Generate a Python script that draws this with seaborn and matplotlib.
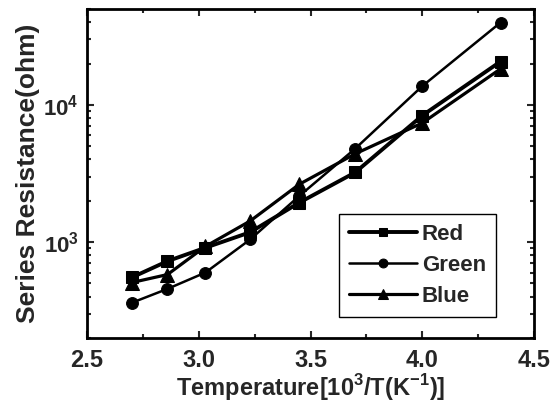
import numpy as np
import pandas as pd
import seaborn as sns
import matplotlib
matplotlib.use("Agg")
import matplotlib.pyplot as plt
from matplotlib.ticker import LogLocator, FixedFormatter, FixedLocator, NullFormatter, MultipleLocator

# 1000/T values (x) and series resistance (ohm)
inv_temp = [2.70, 2.86, 3.03, 3.23, 3.45, 3.70, 4.00, 4.35]
red = [552, 726, 910, 1180, 1940, 3220, 8360, 20700]
green = [361, 456, 600, 1045, 2170, 4800, 13700, 39800]
blue = [507, 580, 930, 1425, 2640, 4400, 7380, 18300]

series_names = ["Red", "Green", "Blue"]

df = pd.DataFrame({
    "x": inv_temp * 3,
    "y": red + green + blue,
    "series": np.repeat(series_names, len(inv_temp)),
})

sns.set_style("ticks")
plt.rcParams["font.family"] = ["Liberation Sans", "DejaVu Sans"]
plt.rcParams["font.weight"] = "bold"
plt.rcParams["mathtext.fontset"] = "custom"
plt.rcParams["mathtext.bf"] = "Liberation Sans:bold"
plt.rcParams["mathtext.rm"] = "Liberation Sans:bold"

fig = plt.figure(figsize=(5.56, 4.08), dpi=100)
ax = fig.add_axes([0.1565, 0.1716, 0.804, 0.8064])

markers = {"Red": "s", "Green": "o", "Blue": "^"}
widths = {"Red": 2.8, "Green": 1.8, "Blue": 2.3}
msizes = {"Red": 8.5, "Green": 8.5, "Blue": 9.5}

for name in series_names:
    sns.lineplot(data=df[df["series"] == name], x="x", y="y", ax=ax,
                 color="black", marker=markers[name], markersize=msizes[name],
                 markeredgecolor="black", linewidth=widths[name], label=name)

ax.set_yscale("log")
ax.set_xlim(2.5, 4.5)
ax.set_ylim(200, 50000)

ax.xaxis.set_minor_locator(MultipleLocator(0.25))
ax.set_xticks([2.5, 3.0, 3.5, 4.0, 4.5])
ax.set_xticklabels(["2.5", "3.0", "3.5", "4.0", "4.5"])

ax.yaxis.set_major_locator(FixedLocator([1e3, 1e4]))
ax.yaxis.set_major_formatter(FixedFormatter([r"$\mathbf{10^{3}}$", r"$\mathbf{10^{4}}$"]))
ax.yaxis.set_minor_locator(LogLocator(base=10, subs=np.arange(2, 10), numticks=20))
ax.yaxis.set_minor_formatter(NullFormatter())

ax.tick_params(which="both", direction="in", top=True, right=True, width=1.5)
ax.tick_params(which="major", length=5, pad=6)
ax.tick_params(axis="x", which="major", labelsize=17, pad=8)
ax.tick_params(axis="y", which="major", labelsize=16)
ax.tick_params(which="minor", length=3)
for s in ax.spines.values():
    s.set_linewidth(2)
    s.set_color("black")

ax.set_xlabel(r"Temperature[10$^\mathbf{3}$/T(K$^\mathbf{-1}$)]", fontsize=17, fontweight="bold", labelpad=0)
ax.set_ylabel("Series Resistance(ohm)", fontsize=19, fontweight="bold", labelpad=2)

leg = ax.legend(loc="lower right", bbox_to_anchor=(0.915, 0.064), fontsize=16,
                frameon=True, fancybox=False, framealpha=1, edgecolor="black",
                handlelength=3.1, handletextpad=0.2, labelspacing=0.45,
                borderpad=0.45, borderaxespad=0, markerscale=0.75)
leg.get_frame().set_linewidth(1)
for t in leg.get_texts():
    t.set_fontweight("bold")

fig.savefig("out.png", dpi=100)
